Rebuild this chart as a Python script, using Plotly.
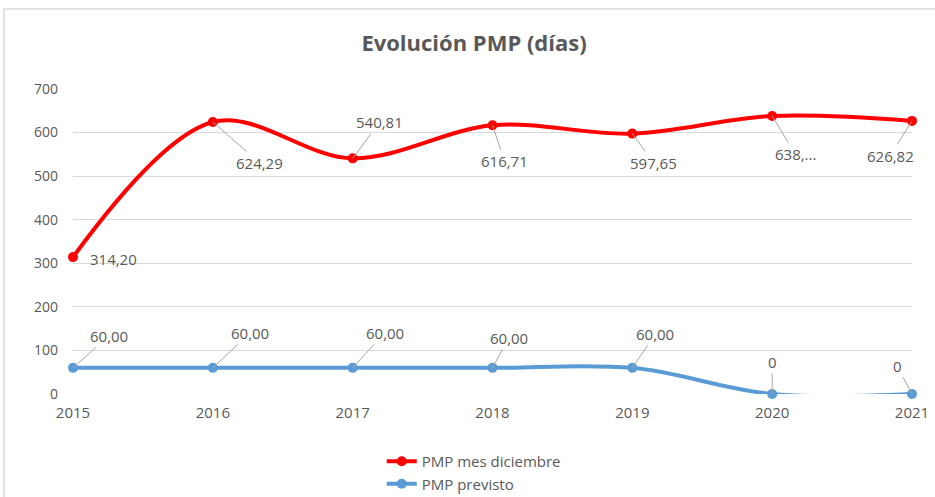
import plotly.graph_objects as go

years = [2015, 2016, 2017, 2018, 2019, 2020, 2021]
pmp_diciembre = [314.20, 624.29, 540.81, 616.71, 597.65, 638.0, 626.82]
pmp_previsto = [60, 60, 60, 60, 60, 0, 0]
labels_diciembre = ["314,20", "624,29", "540,81", "616,71", "597,65", "638,...", "626,82"]
labels_previsto = ["60,00", "60,00", "60,00", "60,00", "60,00", "0", "0"]
y_ticks = [0, 100, 200, 300, 400, 500, 600, 700]

RED = "#ff0000"
BLUE = "#5b9bd5"
GRAY = "#595959"
FONT = "Open Sans"

fig = go.Figure()
fig.add_trace(go.Scatter(
    x=years, y=pmp_diciembre, name="PMP mes diciembre",
    mode="lines+markers", line=dict(color=RED, width=4, shape="spline", smoothing=1),
    marker=dict(color=RED, size=10), cliponaxis=False))
fig.add_trace(go.Scatter(
    x=years, y=pmp_previsto, name="PMP previsto",
    mode="lines+markers", line=dict(color=BLUE, width=4, shape="spline", smoothing=1),
    marker=dict(color=BLUE, size=10), cliponaxis=False))

red_off = [(40, 2), (47, 41), (27, -36), (12, 36), (21, 29), (23, 38), (-22, 35)]
blue_off = [(36, -32), (37, -35), (32, -35), (16, -30), (23, -34), (0, -32), (-15, -28)]

LBL = dict(family=FONT, size=15, color=GRAY)
annotations = []
for i, (x, y, t) in enumerate(zip(years, pmp_diciembre, labels_diciembre)):
    ax, ay = red_off[i]
    if i == 0:
        annotations.append(dict(x=x, y=y, text=t, showarrow=False, xshift=ax, yshift=-ay, font=LBL))
    else:
        annotations.append(dict(x=x, y=y, text=t, showarrow=True, ax=ax, ay=ay,
                                arrowhead=0, arrowwidth=1, arrowcolor="#a6a6a6", standoff=0, font=LBL))
for i, (x, y, t) in enumerate(zip(years, pmp_previsto, labels_previsto)):
    ax, ay = blue_off[i]
    annotations.append(dict(x=x, y=y, text=t, showarrow=True, ax=ax, ay=ay,
                            arrowhead=0, arrowwidth=1, arrowcolor="#a6a6a6", standoff=0, font=LBL))

fig.update_layout(
    width=935, height=497,
    margin=dict(l=73, r=23, t=89, b=103, autoexpand=False),
    paper_bgcolor="white", plot_bgcolor="white",
    title=dict(text="<b>Evolución PMP (días)</b>", x=0.507, xanchor="center", y=0.912, yanchor="middle",
               font=dict(family=FONT, size=22, color=GRAY)),
    xaxis=dict(range=[2015, 2021], tickvals=years, ticktext=[str(y) for y in years],
               showgrid=False, zeroline=False, showline=False, ticklabelstandoff=8,
               tickfont=dict(family=FONT, size=15, color=GRAY)),
    yaxis=dict(range=[0, 700], tickvals=y_ticks, showgrid=True, gridcolor="#d9d9d9", gridwidth=1,
               zeroline=False, showline=False, ticks="", ticklen=0, ticklabelstandoff=14,
               tickfont=dict(family=FONT, size=14, color=GRAY)),
    legend=dict(orientation="v", x=0.368, xanchor="left", y=-0.167, yanchor="top",
                font=dict(family=FONT, size=15, color=GRAY), tracegroupgap=0, itemwidth=30),
    showlegend=True,
    annotations=annotations,
    shapes=[dict(type="rect", xref="paper", yref="paper", x0=-0.0822, x1=1.2, y0=-0.5, y1=1.262,
                 line=dict(color="#d9d9d9", width=1.5), layer="below")],
)

fig.write_html("out.html", config={"displayModeBar": False},
               post_script="document.body.style.margin='0';document.body.style.overflow='hidden';")
